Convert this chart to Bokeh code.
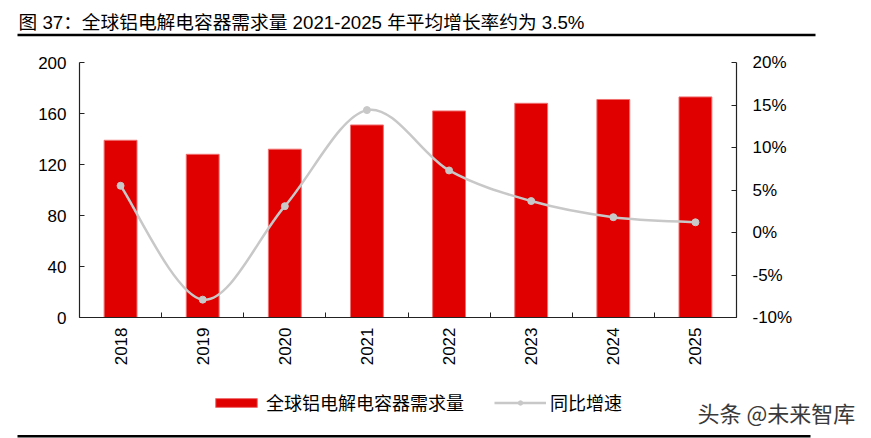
import math
import numpy as np
from bokeh.plotting import figure
from bokeh.layouts import column
from bokeh.core.properties import value
from bokeh.models import (Range1d, LinearAxis, FixedTicker, PrintfTickFormatter,
                          Legend, LegendItem, ColumnDataSource)
from bokeh.embed import file_html
from bokeh.resources import INLINE

# ---------------- data ----------------
title_text = "图 37：全球铝电解电容器需求量 2021-2025 年平均增长率约为 3.5%"
years = ["2018", "2019", "2020", "2021", "2022", "2023", "2024", "2025"]
demand = [139, 128, 132, 151, 162, 168, 171, 173]
growth = [5.5, -7.9, 3.1, 14.4, 7.3, 3.7, 1.8, 1.2]
bar_label = "全球铝电解电容器需求量"
line_label = "同比增速"
left_ticks = [0, 40, 80, 120, 160, 200]
right_ticks = [-10, -5, 0, 5, 10, 15, 20]
watermark = "头条 @未来智库"

# ---------------- geometry (page px) ----------------
W = 871
TOP_H = 40          # title strip: page y 0..40
MAIN_BOTTOM = 380   # main chart: page y 40..380
PAGE_H = 438        # legend / watermark strip: page y 380..438
FL, FT, FR, FB = 79, 62, 736, 317  # plot frame edges on the page

FONT = "Liberation Sans, Noto Sans CJK SC"
CJK = "Noto Sans CJK SC, Liberation Sans"
BAR_FILL = "#E00000"
BAR_EDGE = "#F07070"
LINE_COL = "#C8C8C8"


def strip(y0, y1):
    f = figure(width=W, height=y1 - y0, output_backend="svg", toolbar_location=None,
               x_axis_type=None, y_axis_type=None,
               x_range=Range1d(0, W), y_range=Range1d(y1, y0),
               min_border=0, min_border_left=0, min_border_right=0,
               min_border_top=0, min_border_bottom=0, frame_align=False)
    f.outline_line_color = None
    f.background_fill_color = "white"
    f.border_fill_color = "white"
    return f


# ---------------- title strip ----------------
top = strip(0, TOP_H)
top.text(x=[18], y=[22], text=[title_text], text_baseline="middle", text_align="left",
         text_font=value(FONT), text_font_size=value("18.7px"), text_color="black")
top.quad(left=[17], right=[815], top=[33.3], bottom=[35.8],
         fill_color="black", line_color=None)

# ---------------- main chart ----------------
n = len(years)
xs = [i + 0.5 for i in range(n)]
src = ColumnDataSource(dict(x=xs, year=years, demand=demand, growth=growth))

# smooth (Catmull-Rom -> cubic Bezier) rendering of the growth series
pts = list(zip(xs, growth))
bz = dict(x0=[], y0=[], x1=[], y1=[], cx0=[], cy0=[], cx1=[], cy1=[])
for i in range(n - 1):
    p0 = pts[max(i - 1, 0)]
    p1 = pts[i]
    p2 = pts[i + 1]
    p3 = pts[min(i + 2, n - 1)]
    bz["x0"].append(p1[0]); bz["y0"].append(p1[1])
    bz["x1"].append(p2[0]); bz["y1"].append(p2[1])
    bz["cx0"].append(p1[0] + (p2[0] - p0[0]) / 6.0)
    bz["cy0"].append(p1[1] + (p2[1] - p0[1]) / 6.0)
    bz["cx1"].append(p2[0] - (p3[0] - p1[0]) / 6.0)
    bz["cy1"].append(p2[1] - (p3[1] - p1[1]) / 6.0)
bz_src = ColumnDataSource(bz)

p = figure(width=W, height=MAIN_BOTTOM - TOP_H, output_backend="svg", toolbar_location=None,
           x_range=Range1d(0, n), y_range=Range1d(left_ticks[0], left_ticks[-1]),
           min_border_left=FL, min_border_right=W - FR,
           min_border_top=FT - TOP_H, min_border_bottom=MAIN_BOTTOM - FB,
           frame_align=False)
p.extra_y_ranges = {"pct": Range1d(right_ticks[0], right_ticks[-1])}
p.outline_line_color = None
p.xgrid.grid_line_color = None
p.ygrid.grid_line_color = None
p.background_fill_color = "white"
p.border_fill_color = "white"

# x axis: labels at category centres, ticks at category boundaries
xa = p.xaxis[0]
xa.ticker = FixedTicker(ticks=xs, minor_ticks=list(range(n + 1)))
xa.major_label_overrides = {x: y for x, y in zip(xs, years)}
xa.major_label_orientation = math.pi / 2
xa.major_tick_in = 0
xa.major_tick_out = 0
xa.minor_tick_in = 5
xa.minor_tick_out = 0
xa.minor_tick_line_color = "#222222"
xa.axis_line_color = "#222222"
xa.axis_line_width = 1.2
xa.major_label_standoff = 10
xa.major_label_text_font = FONT
xa.major_label_text_font_size = "17px"
xa.major_label_text_color = "black"

# left axis
ya = p.yaxis[0]
ya.ticker = FixedTicker(ticks=left_ticks)
ya.major_tick_in = 5
ya.major_tick_out = 0
ya.minor_tick_in = 0
ya.minor_tick_out = 0
ya.axis_line_color = "#222222"
ya.axis_line_width = 1.2
ya.major_tick_line_color = "#222222"
ya.major_label_standoff = 13
ya.major_label_text_font = FONT
ya.major_label_text_font_size = "17px"
ya.major_label_text_color = "black"

# right axis
ra = LinearAxis(y_range_name="pct", ticker=FixedTicker(ticks=right_ticks),
                formatter=PrintfTickFormatter(format="%d%%"))
ra.major_tick_in = 5
ra.major_tick_out = 0
ra.minor_tick_in = 0
ra.minor_tick_out = 0
ra.axis_line_color = "#222222"
ra.axis_line_width = 1.2
ra.major_tick_line_color = "#222222"
ra.major_label_standoff = 16
ra.major_label_text_font = FONT
ra.major_label_text_font_size = "17px"
ra.major_label_text_color = "black"
p.add_layout(ra, "right")

bars = p.vbar(x="x", top="demand", width=0.4, source=src,
              fill_color=BAR_FILL, line_color=BAR_EDGE, line_width=1)
curve = p.bezier(x0="x0", y0="y0", x1="x1", y1="y1", cx0="cx0", cy0="cy0",
                 cx1="cx1", cy1="cy1", source=bz_src, y_range_name="pct",
                 line_color=LINE_COL, line_width=2.5)
dots = p.scatter(x="x", y="growth", source=src, y_range_name="pct",
                 marker="circle", size=7, fill_color=LINE_COL, line_color=LINE_COL)

# ---------------- bottom strip: legend, watermark, rule ----------------
bot = strip(MAIN_BOTTOM, PAGE_H)
# legend keys only (NaN coordinates: nothing is drawn in the strip itself)
key_src = ColumnDataSource(dict(x=np.array([np.nan]), y=np.array([np.nan]),
                                top=np.array([np.nan])))
lg_bar = bot.vbar(x="x", top="top", width=1, source=key_src,
                  fill_color=BAR_FILL, line_color=BAR_EDGE, line_width=1)
lg_line = bot.line(x="x", y="y", source=key_src, line_color=LINE_COL, line_width=2.5)
lg_dot = bot.scatter(x="x", y="y", source=key_src, marker="circle", size=7,
                     fill_color=LINE_COL, line_color=LINE_COL)
legend = Legend(items=[LegendItem(label=bar_label, renderers=[lg_bar]),
                       LegendItem(label=line_label, renderers=[lg_line, lg_dot])],
                orientation="horizontal", location=(210, PAGE_H - 415),
                glyph_width=52, glyph_height=11, label_standoff=4, spacing=30,
                padding=0, margin=0, border_line_color=None, background_fill_alpha=0,
                label_text_font=CJK, label_text_font_size="18px",
                label_text_color="black")
bot.add_layout(legend)
bot.text(x=[697], y=[411], text=[watermark], text_baseline="middle", text_align="left",
         text_font=value(CJK), text_font_size=value("22px"), text_color="#3A3A3A")
bot.quad(left=[17], right=[810], top=[434.5], bottom=[437],
         fill_color="black", line_color=None)

layout = column(top, p, bot, spacing=0)
open("out.html", "w").write(file_html(layout, INLINE))
